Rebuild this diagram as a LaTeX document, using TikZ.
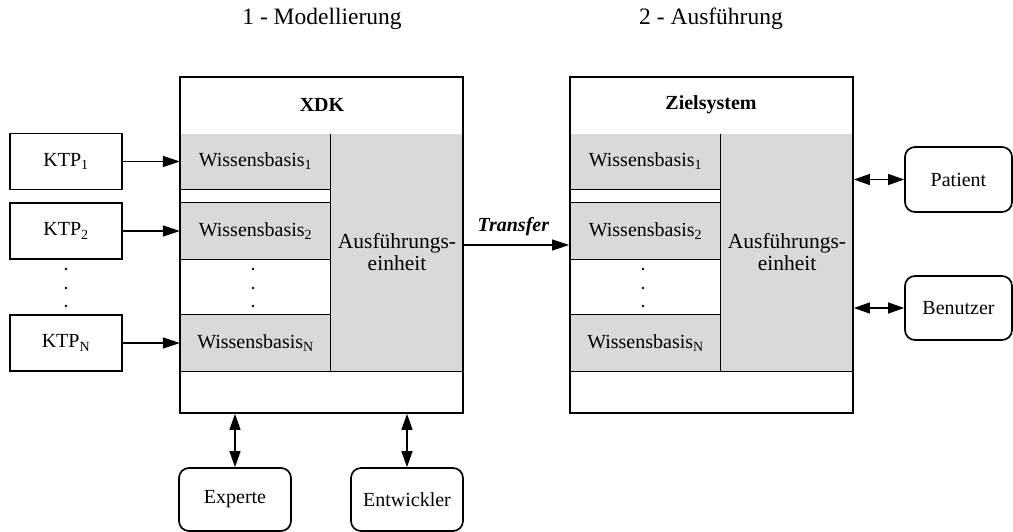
\documentclass[tikz,border=0pt]{standalone}
\usepackage{fontspec}
\setmainfont{Liberation Serif}
\usetikzlibrary{arrows.meta}
\definecolor{panel}{HTML}{D9D9D9}
\begin{document}
\begin{tikzpicture}[x=1pt,y=-1pt,
  font=\fontsize{20}{23}\selectfont,
  frame/.style={draw, line width=1.7pt, inner sep=0pt},
  shade/.style={fill=panel, inner sep=0pt, align=center},
  sep/.style={line width=0.9pt},
  heading/.style={font=\fontsize{23.5}{27}\selectfont, anchor=base},
  plain/.style={draw, line width=1.7pt, inner sep=0pt, minimum width=112pt, minimum height=56pt},
  actor/.style={draw, line width=1.7pt, rounded corners=10pt, inner sep=0pt, minimum height=64pt},
  tip/.style={-{Triangle[length=17pt,width=11pt]}, line width=1.2pt},
  both/.style={{Triangle[length=16pt,width=11pt]}-{Triangle[length=16pt,width=11pt]}, line width=1.2pt},
  dot/.style={fill=black}
]
\useasboundingbox (0,0) rectangle (1013,532);

% phase titles
\node[heading] (t1) at (322,25) {1 - Modellierung};
\node[heading] (t2) at (711,25) {2 - Ausführung};

% contents of both systems (drawn before their frames)
\foreach \dx/\nm in {0/a, 390/b} {
  \begin{scope}[xshift=\dx]
    \node[shade, minimum width=151pt, minimum height=55pt] (wb1\nm) at (255.5,161.5) {Wissensbasis\textsubscript{1}};
    \node[shade, minimum width=151pt, minimum height=56pt] (wb2\nm) at (255.5,231) {Wissensbasis\textsubscript{2}};
    \node[shade, minimum width=151pt, minimum height=56pt] (wbn\nm) at (255.5,343) {Wissensbasis\textsubscript{N}};
    \node[shade, minimum width=132pt, minimum height=237pt, font=\fontsize{21.5}{22}\selectfont] (ex\nm) at (397,252.5) {Ausführungs-\\einheit};
    \draw[sep] (wb1\nm.south west) -- (wb1\nm.south east);
    \draw[sep] (wb2\nm.north west) -- (wb2\nm.north east);
    \draw[sep] (wb2\nm.south west) -- (wb2\nm.south east);
    \draw[sep] (wbn\nm.north west) -- (wbn\nm.north east);
    \draw[sep] (wbn\nm.south west) -- (ex\nm.south east);
    \draw[sep] (ex\nm.north west) -- (ex\nm.south west);
    \fill[dot] (253,269) circle (1.3pt) (253,288) circle (1.3pt) (253,306) circle (1.3pt);
  \end{scope}
}

% system frames
\node[frame, minimum width=283pt, minimum height=336pt] (xdk) at (321.5,245) {};
\node[frame, minimum width=283pt, minimum height=336pt] (ziel) at (711.5,245) {};
\node[font=\fontsize{20}{23}\selectfont\bfseries] (xdkt) at (322,105) {XDK};
\node[font=\fontsize{20}{23}\selectfont\bfseries] (zielt) at (711,105) {Zielsystem};

% knowledge transfer packages
\node[plain] (ktp1) at (66,161.5) {KTP\textsubscript{1}};
\node[plain] (ktp2) at (66,231) {KTP\textsubscript{2}};
\node[plain] (ktpn) at (66,343) {KTP\textsubscript{N}};
\fill[dot] (66,269) circle (1.3pt) (66,288) circle (1.3pt) (66,306) circle (1.3pt);

\draw[tip] (ktp1.east) -- (wb1a.west);
\draw[tip] (ktp2.east) -- (wb2a.west);
\draw[tip] (ktpn.east) -- (wbna.west);

% transfer
\draw[tip] (xdk.east) -- (ziel.west)
  node[pos=0.47, above=5pt, font=\fontsize{20}{23}\selectfont\bfseries\itshape] (tr) {Transfer};

% actors
\node[actor, minimum width=107pt, minimum height=65pt] (pat) at (958.5,179.5) {Patient};
\node[actor, minimum width=107pt] (ben) at (958.5,308) {Benutzer};
\node[actor, minimum width=112pt, minimum height=63pt] (exp) at (235,499.5) {Experte};
\node[actor, minimum width=112pt, minimum height=63pt] (ent) at (407,499.5) {Entwickler};

\draw[both] (ziel.east |- pat.west) -- (pat.west);
\draw[both] (ziel.east |- ben.west) -- (ben.west);
\draw[both] (xdk.south -| exp.north) -- (exp.north);
\draw[both] (xdk.south -| ent.north) -- (ent.north);
\end{tikzpicture}
\end{document}
